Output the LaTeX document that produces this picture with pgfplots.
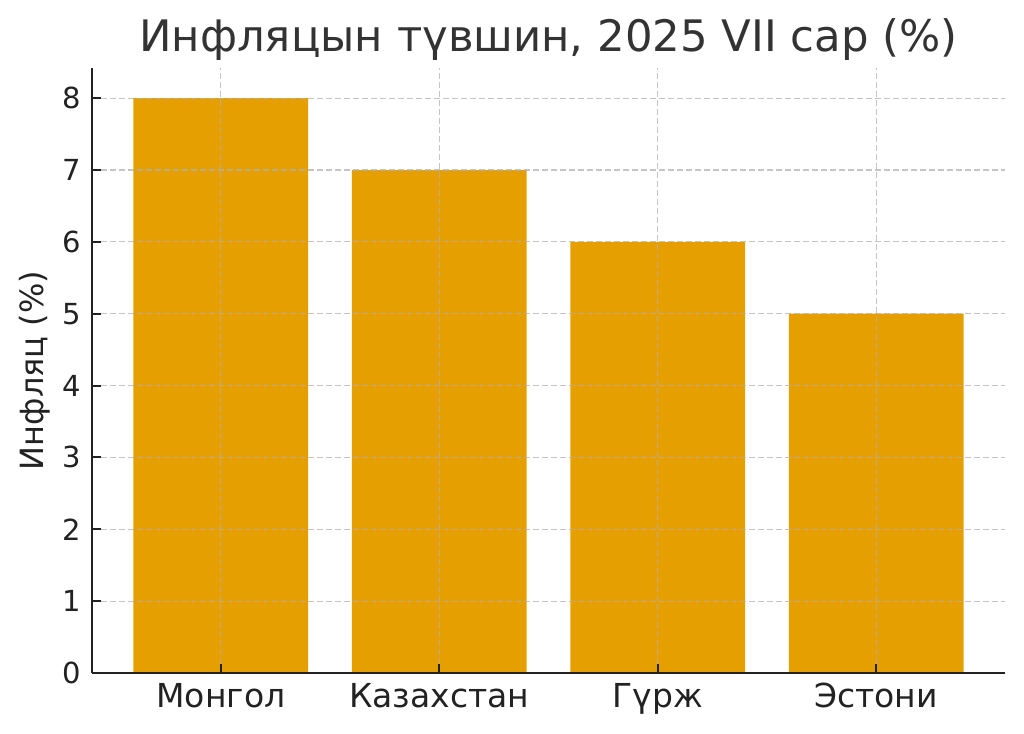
\documentclass[border=0pt]{standalone}
\usepackage{pgfplots}
\pgfplotsset{compat=1.18}
\usepackage{fontspec}
\setmainfont{DejaVu Sans}
\definecolor{barorange}{HTML}{E69F00}
\definecolor{spine}{HTML}{222222}
\definecolor{titlegray}{HTML}{333333}
\definecolor{gridgray}{HTML}{B0B0B0}
\begin{document}
\begin{tikzpicture}
	\useasboundingbox (-46pt,-30.5pt) rectangle (466pt,336.5pt);
	\begin{axis}[
		scale only axis,
		width=456.5pt,
		height=302.5pt,
		xmin=-0.59, xmax=3.59,
		ymin=0, ymax=8.42,
		axis lines*=left,
		axis line style={spine, line width=1.2pt},
		axis on top,
		xtick={0,1,2,3},
		xticklabels={Монгол, Казахстан, Гүрж, Эстони},
		ytick={0,1,2,3,4,5,6,7,8},
		tick align=inside,
		major tick length=4.5pt,
		major tick style={spine, line width=1pt},
		grid=major,
		major grid style={gridgray, opacity=0.75, line width=0.6pt, dash pattern=on 3pt off 1.5pt},
		/pgf/number format/assume math mode=true,
		yticklabel style={font=\fontsize{14.5}{17}\selectfont, text=spine, anchor=east, inner sep=0pt, xshift=-5.5pt},
		xticklabel style={font=\fontsize{16.5}{19}\selectfont, text=spine, anchor=base, inner sep=0pt, yshift=-17.5pt},
		ylabel={Инфляц (\%)},
		ylabel style={at={(axis description cs:0,0.5)}, anchor=base, inner sep=0pt, yshift=24pt, font=\fontsize{16}{19}\selectfont, text=spine},
		title={Инфляцын түвшин, 2025 VII сар (\%)},
		title style={at={(axis description cs:0.5,1)}, anchor=base, inner sep=0pt, yshift=2pt, font=\fontsize{21.7}{26}\selectfont, text=titlegray},
	]
	\addplot[ybar, bar width=0.8, bar shift=0pt, fill=barorange, draw=none]
		coordinates {(0,8) (1,7) (2,6) (3,5)};
	\end{axis}
\end{tikzpicture}
\end{document}
